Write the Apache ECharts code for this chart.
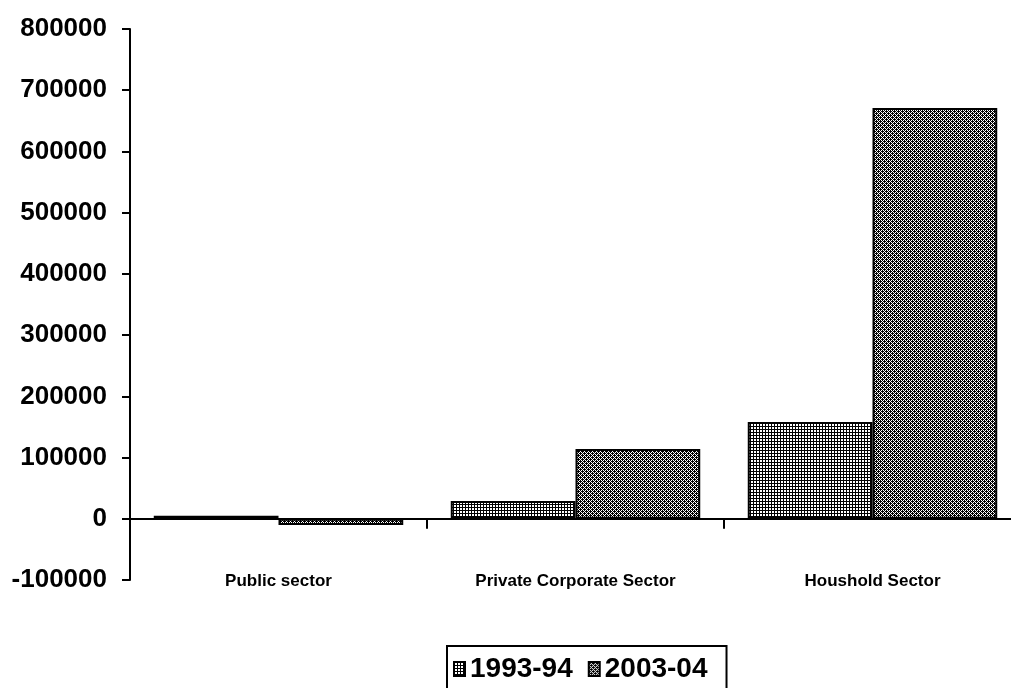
<!DOCTYPE html>
<html>
<head>
    <meta charset="utf-8" />
    <title>Sector chart</title>
    <script src="https://cdn.jsdelivr.net/npm/echarts@6/dist/echarts.min.js"></script>
    <style>
        html, body { margin: 0; padding: 0; background: #fff; overflow: hidden; }
        #wrap { width: 1011px; height: 688px; overflow: hidden; }
        /* a bit wider than the window so the last band runs off the right edge */
        #main { width: 1021px; height: 688px; }
    </style>
</head>
<body>
<div id="wrap"><div id="main"></div></div>
<script>
    // data
    var categories = ['Public sector', 'Private Corporate Sector', 'Houshold Sector'];
    var seriesNames = ['1993-94', '2003-04'];
    var values1993 = [5000, 29000, 158000];
    var values2003 = [-10000, 114000, 671000];

    // small fill patterns, like the old office hatches
    function makePattern(size, isDark) {
        var c = document.createElement('canvas');
        c.width = size;
        c.height = size;
        var ctx = c.getContext('2d');
        ctx.fillStyle = '#fff';
        ctx.fillRect(0, 0, size, size);
        ctx.fillStyle = '#000';
        for (var x = 0; x < size; x++) {
            for (var y = 0; y < size; y++) {
                if (isDark(x, y)) ctx.fillRect(x, y, 1, 1);
            }
        }
        return { image: c, repeat: 'repeat' };
    }
    var gridFill = makePattern(3, function (x, y) { return x === 0 || y === 0; });
    var hatchFill = makePattern(4, function (x, y) {
        return (x + y) % 2 === 0 || (x + y) % 4 === 1 && x % 2 === 0;
    });

    var chart = echarts.init(document.getElementById('main'));
    chart.setOption({
        animation: false,
        textStyle: { fontFamily: 'Liberation Sans, Arial, sans-serif' },
        grid: { left: 130, right: 0, top: 29, bottom: 108 },
        legend: {
            data: seriesNames,
            icon: 'rect',
            left: 447,
            top: 646,
            padding: [9, 19, 10, 6],
            itemGap: 15,
            itemWidth: 11,
            itemHeight: 14,
            borderColor: '#000',
            borderWidth: 2,
            borderRadius: 0,
            textStyle: { fontSize: 28, fontWeight: 'bold', color: '#000' }
        },
        xAxis: {
            type: 'category',
            data: categories,
            axisLine: { onZero: true, lineStyle: { color: '#000', width: 2 } },
            axisTick: { show: true, length: 10, lineStyle: { color: '#000', width: 2 } },
            axisLabel: { margin: -7, fontSize: 17, fontWeight: 'bold', color: '#000' }
        },
        yAxis: {
            type: 'value',
            min: -100000,
            max: 800000,
            interval: 100000,
            splitLine: { show: false },
            axisLine: { show: true, lineStyle: { color: '#000', width: 2 } },
            axisTick: { show: true, length: 8, lineStyle: { color: '#000', width: 2 } },
            axisLabel: {
                margin: 23, fontSize: 26, fontWeight: 'bold', color: '#000',
                formatter: function (v) { return String(v); }
            }
        },
        series: [
            {
                name: seriesNames[0],
                type: 'bar',
                data: values1993,
                barGap: '0%',
                barCategoryGap: '16%',
                itemStyle: { color: gridFill, borderColor: '#000', borderWidth: 2 }
            },
            {
                name: seriesNames[1],
                type: 'bar',
                data: values2003,
                itemStyle: { color: hatchFill, borderColor: '#000', borderWidth: 2 }
            }
        ]
    });
</script>
</body>
</html>
